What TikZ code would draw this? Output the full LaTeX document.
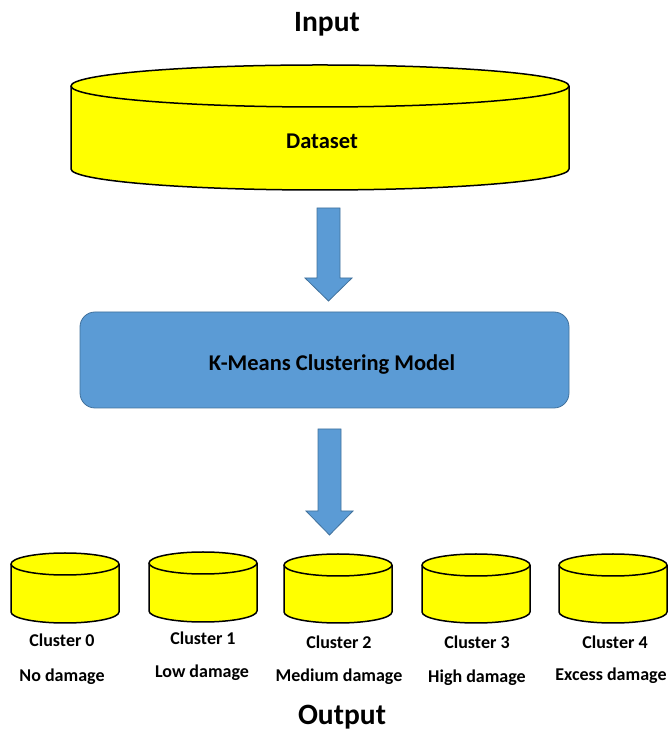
\documentclass[tikz,border=0pt]{standalone}
\usepackage{fontspec}
\setmainfont{Carlito}
\usetikzlibrary{calc}
\definecolor{cylyellow}{HTML}{FFFF00}
\definecolor{boxblue}{HTML}{5B9BD5}
\definecolor{boxline}{HTML}{41719C}
\tikzset{
  cylline/.style={draw=black,line width=1.5pt,line join=round},
  blockarr/.style={fill=boxblue,draw=boxline,line width=0.8pt,line join=miter},
  lbl/.style={font=\bfseries\fontsize{18}{21}\selectfont,inner sep=0pt,anchor=center},
  title/.style={font=\bfseries\fontsize{29.5}{32}\selectfont,inner sep=0pt,anchor=center},
  big/.style={font=\bfseries\fontsize{22.5}{26}\selectfont,inner sep=0pt,anchor=center}
}
% cx, ytop, ybot, rx, ry
\newcommand\drawcyl[5]{%
  \fill[cylyellow] ({#1-#4},#2) -- ({#1-#4},#3) arc[start angle=180,end angle=360,x radius=#4pt,y radius=#5pt] -- ({#1+#4},#2) -- cycle;
  \draw[cylline] ({#1-#4},#2) -- ({#1-#4},#3) arc[start angle=180,end angle=360,x radius=#4pt,y radius=#5pt] -- ({#1+#4},#2);
  \draw[cylline,fill=cylyellow] (#1,#2) ellipse[x radius=#4pt,y radius=#5pt];
}
\begin{document}
\begin{tikzpicture}[x=1pt,y=1pt]
\useasboundingbox (0,0) rectangle (670,733);
% title
\node[title] (input) at (327,709) {Input};
% dataset cylinder
\drawcyl{320}{647}{564}{249}{21}
\node[big] (dataset) at (322,592) {Dataset};
% arrow 1
\coordinate (a1s) at (328.5,525);
\coordinate (a1t) at (328.5,432);
\draw[blockarr] ($(a1s)+(-11.5,0)$) -- ($(a1s)+(11.5,0)$) -- ($(a1t)+(11.5,23)$) -- ($(a1t)+(23.5,23)$) -- (a1t) -- ($(a1t)+(-23.5,23)$) -- ($(a1t)+(-11.5,23)$) -- cycle;
% model box
\node[draw=boxline,fill=boxblue,line width=0.8pt,rounded corners=15pt,minimum width=489pt,minimum height=96pt,inner sep=0pt] (model) at (324.5,373) {};
\node[big] (modeltext) at (332,368) {K-Means Clustering Model};
% arrow 2
\coordinate (a2s) at (329.5,304);
\coordinate (a2t) at (329.5,198);
\draw[blockarr] ($(a2s)+(-11.5,0)$) -- ($(a2s)+(11.5,0)$) -- ($(a2t)+(11.5,24)$) -- ($(a2t)+(23.5,24)$) -- (a2t) -- ($(a2t)+(-23.5,24)$) -- ($(a2t)+(-11.5,24)$) -- cycle;
% cluster cylinders
\drawcyl{65}{169}{121}{54}{11}
\drawcyl{203}{170}{122}{54}{11}
\drawcyl{338}{168}{121}{54}{11}
\drawcyl{476}{168}{121}{54}{11}
\drawcyl{613}{168}{121}{54}{11}
% labels
\node[lbl] (c0) at (62,93) {Cluster 0};
\node[lbl] (c1) at (203,95) {Cluster 1};
\node[lbl] (c2) at (339,91) {Cluster 2};
\node[lbl] (c3) at (477,91) {Cluster 3};
\node[lbl] (c4) at (615,91) {Cluster 4};
\node[lbl] (d0) at (62,56) {No damage};
\node[lbl] (d1) at (202,60) {Low damage};
\node[lbl] (d2) at (339,56) {Medium damage};
\node[lbl] (d3) at (477,55) {High damage};
\node[lbl] (d4) at (611,57) {Excess damage};
\node[title] (output) at (342,16) {Output};
\end{tikzpicture}
\end{document}
